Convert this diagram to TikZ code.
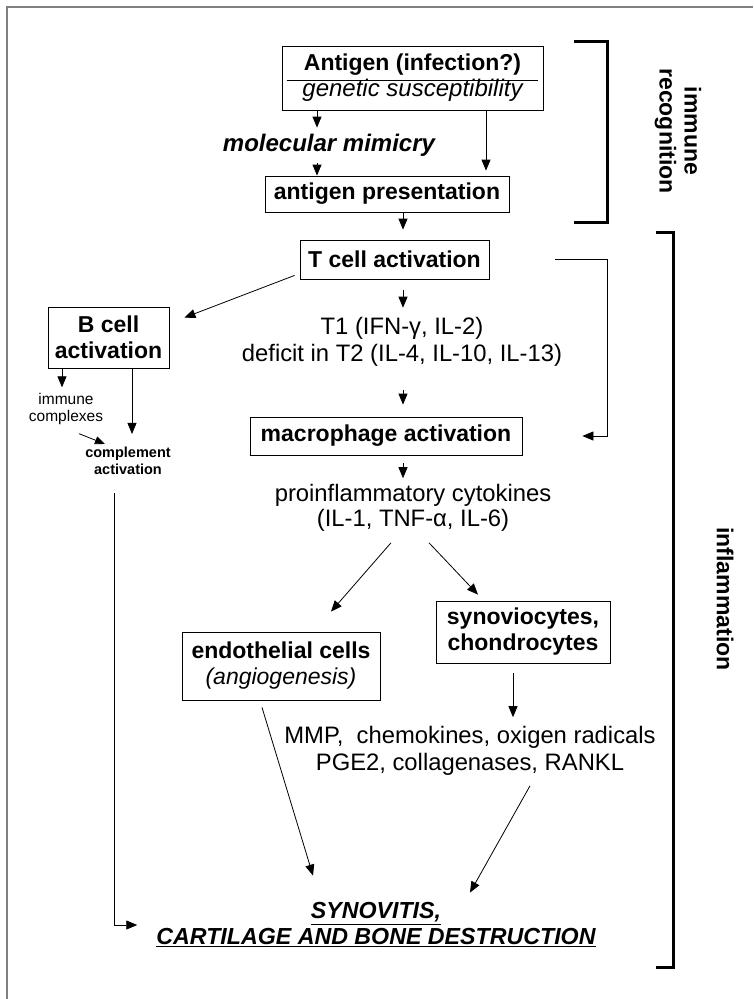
\documentclass[tikz,border=0pt]{standalone}
\usepackage{fontspec}
\setmainfont{Liberation Sans}
\usepackage{tikz}
\usetikzlibrary{arrows.meta,calc,positioning}

\begin{document}
\begin{tikzpicture}[x=1pt, y=-1pt,
    box/.style={draw, line width=0.8pt, inner sep=0pt, align=center,
      font=\fontsize{23}{26}\selectfont\bfseries},
    txt/.style={align=center, inner sep=0pt, font=\fontsize{23.8}{27}\selectfont},
    small/.style={align=center, inner sep=0pt, font=\fontsize{15.5}{16.5}\selectfont},
    arr/.style={line width=0.8pt, -{Triangle[length=11pt,width=9pt]}},
    brack/.style={line width=3pt},
    side/.style={rotate=-90, align=center, inner sep=0pt,
      font=\fontsize{23}{25}\selectfont\bfseries}]
  \useasboundingbox (0,0) rectangle (753,999);
  % frame
  \draw[gray, line width=1.2pt] (7,999) -- (7,7) -- (753,7);

  % immune recognition
  \node[box, minimum width=261pt, minimum height=64pt] (antigen) at (412.5,78)
    {Antigen (infection?)\\{\mdseries\itshape\fontsize{24}{26}\selectfont genetic susceptibility}};
  \draw[line width=0.6pt] ([xshift=5pt,yshift=-2pt]antigen.west) -- ([xshift=-5pt,yshift=-2pt]antigen.east);
  \node[txt, font=\fontsize{24}{26}\selectfont\bfseries\itshape] (mimicry) at (329,145) {molecular mimicry};
  \node[box, minimum width=244pt, minimum height=36pt] (present) at (387,194) {antigen presentation};
  \coordinate (antL) at (317,0);
  \coordinate (antR) at (486,0);
  \coordinate (mid) at (403,0);
  \draw[arr, shorten >=6pt] (antigen.south -| antL) -- (mimicry.north -| antL);
  \draw[arr, shorten <=7pt] (mimicry.south -| antL) -- (present.north -| antL);
  \draw[arr, shorten >=5pt] (antigen.south -| antR) -- (present.north -| antR);

  % T cells
  \node[box, minimum width=189pt, minimum height=39pt] (tcell) at (394.5,259.5) {T cell activation};
  \draw[arr, shorten >=10pt] (present.south -| mid) -- (tcell.north -| mid);
  \node[box, minimum width=121pt, minimum height=61pt] (bcell) at (108.5,337.5) {B cell\\activation};
  \draw[arr] ([xshift=-5pt,yshift=4pt]tcell.south west) -- ([xshift=15pt,yshift=-11pt]bcell.north east);
  \node[txt] (tone) at (402,341.5) {T1 (IFN-γ, IL-2)\\deficit in T2 (IL-4, IL-10, IL-13)};
  \draw[arr, shorten <=11pt, shorten >=9pt] (tcell.south -| mid) -- (tone.north -| mid);

  % B cells
  \node[small] (cplx) at (66,409) {immune\\complexes};
  \node[small, font=\fontsize{14.5}{17}\selectfont\bfseries] (compl) at (128,461) {complement\\activation};
  \coordinate (bcL) at (62,0);
  \coordinate (bcR) at (132,0);
  \draw[arr] (bcell.south -| bcL) -- ([yshift=6pt]cplx.north -| bcL);
  \draw[arr] (bcell.south -| bcR) -- ([yshift=13pt]compl.north -| bcR);
  \draw[line width=0.8pt, -{Triangle[length=10pt,width=8pt]}] ([shift={(13pt,-9pt)}]cplx.south) -- ([shift={(-23pt,3pt)}]compl.north);

  % macrophages
  \node[box, minimum width=272pt, minimum height=38pt] (macro) at (386,436) {macrophage activation};
  \draw[arr, shorten <=24pt, shorten >=12pt] (tone.south -| mid) -- (macro.north -| mid);
  \coordinate (rside) at (607,0);
  \draw[arr] ([xshift=66pt]tcell.east) -- (tcell.east -| rside) |- ([xshift=60pt]macro.east);
  \node[txt, font=\fontsize{23.8}{25}\selectfont] (cyto) at (413,508) {proinflammatory cytokines\\(IL-1, TNF-α, IL-6)};
  \draw[arr, shorten <=8pt, shorten >=6pt] (macro.south -| mid) -- (cyto.north -| mid);

  % effector cells
  \node[box, minimum width=174pt, minimum height=62pt] (synov) at (523,632) {synoviocytes,\\chondrocytes};
  \node[box, minimum width=198pt, minimum height=68pt] (endo) at (281,666) {endothelial cells\\{\mdseries\itshape (angiogenesis)}};
  \draw[arr] ([shift={(-22pt,-11pt)}]cyto.south) -- ([shift={(50pt,20pt)}]endo.north);
  \draw[arr] ([shift={(16pt,-11pt)}]cyto.south) -- ([shift={(-45pt,6pt)}]synov.north);
  \node[txt] (mmp) at (470,751) {MMP,\ \ chemokines, oxigen radicals\\PGE2, collagenases, RANKL};
  \draw[arr, shorten <=10pt, shorten >=9pt] ([xshift=-10pt]synov.south) -- ([xshift=-10pt]synov.south |- mmp.north);

  % outcome
  \node[txt, font=\fontsize{23.2}{26}\selectfont\bfseries\itshape] (destr) at (376,925)
    {\underline{SYNOVITIS,}\\\underline{CARTILAGE AND BONE DESTRUCTION}};
  \draw[arr] ([shift={(-19pt,-7pt)}]endo.south) -- ([shift={(-63pt,27pt)}]destr.north);
  \draw[arr] ([shift={(60pt,-10pt)}]mmp.south) -- ([shift={(94pt,10pt)}]destr.north);
  \coordinate (lside) at (114,0);
  \draw[arr, shorten <=18pt, shorten >=19pt] (compl.south -| lside) |- (destr.west);

  % brackets
  \draw[brack] (574,41) -- (607,41) -- (607,222) -- (574,222);
  \draw[brack] (656,232) -- (673,232) -- (673,967) -- (656,967);
  \node[side] (recog) at (678,131) {immune\\recognition};
  \node[side] (inflam) at (725,599) {inflammation};
\end{tikzpicture}
\end{document}
